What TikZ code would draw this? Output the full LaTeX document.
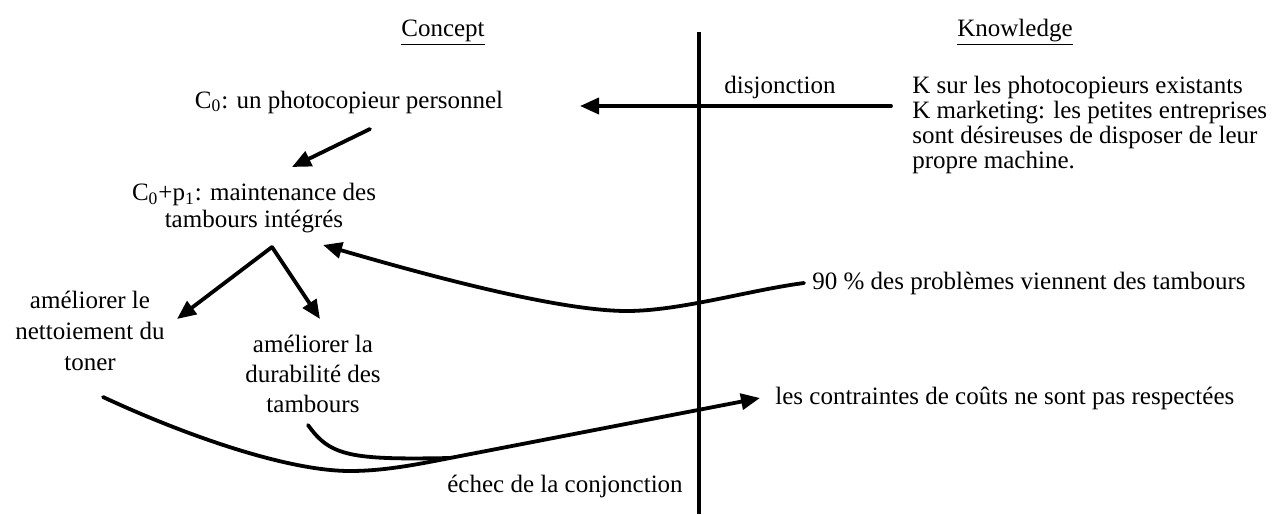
\documentclass[tikz,border=0pt]{standalone}
\usepackage{fontspec}
\setmainfont{Liberation Serif}
\usetikzlibrary{arrows.meta}

\begin{document}
\begin{tikzpicture}[x=0.5pt, y=-0.5pt,
  every node/.style={font=\fontsize{12.5}{15}\selectfont, inner sep=0pt},
  fleche/.style={line width=1.9pt, line cap=round, -{Triangle[length=9.5pt,width=8pt]}},
  trait/.style={line width=1.9pt, line cap=round}]
  \useasboundingbox (0,0) rectangle (1274,514);

  % Titres des deux espaces
  \node[anchor=base] (concept) at (443,36) {\underline{Concept}};
  \node[anchor=base] (knowledge) at (1015,36) {\underline{Knowledge}};

  % Frontiere C / K
  \coordinate (sephaut) at (699,32);
  \coordinate (sepbas) at (699,514);
  \draw[line width=2pt] (sephaut) -- (sepbas);

  % Espace C
  \node[anchor=base] (c0) at (349,108) {C\textsubscript{0}: un photocopieur personnel};
  \node[align=center, font=\fontsize{12.5}{13.5}\selectfont] (c0p1) at (254,208)
    {C\textsubscript{0}+p\textsubscript{1}: maintenance des\\tambours intégrés};
  \node[align=center, font=\fontsize{12.5}{15.5}\selectfont] (toner) at (90,331)
    {améliorer le\\nettoiement du\\toner};
  \node[align=center, font=\fontsize{12.5}{15}\selectfont] (durab) at (313,374)
    {améliorer la\\durabilité des\\tambours};

  % Espace K
  \node[anchor=base] (disj) at (780,93) {disjonction};
  \node[anchor=west, align=left, font=\fontsize{12.5}{12.5}\selectfont] (kexist) at (912,125)
    {K sur les photocopieurs existants\\K marketing: les petites entreprises\\sont désireuses de disposer de leur\\propre machine.};
  \node[anchor=west] (k90) at (812,283) {90 \% des problèmes viennent des tambours};
  \node[anchor=west] (couts) at (775,398) {les contraintes de coûts ne sont pas respectées};
  \node[anchor=base] (echec) at (565,492) {échec de la conjonction};

  % Points d'accroche
  \coordinate (disjdep) at (891,106);
  \coordinate (disjarr) at (580,106);
  \coordinate (c0dep) at (370,129);
  \coordinate (c0arr) at (292,167);
  \coordinate (sommet) at (272,247);
  \coordinate (tonerarr) at (177,319);
  \coordinate (durabarr) at (320,319);
  \coordinate (k90arr) at (323,245);
  \coordinate (tonerdep) at (103,397);
  \coordinate (durabdep) at (308,425);
  \coordinate (jonction) at (450,458);

  % Fleches
  \draw[fleche] (disjdep) -- (disjarr);
  \draw[fleche] (c0dep) -- (c0arr);
  \draw[fleche] (sommet) -- (tonerarr);
  \draw[fleche] (sommet) -- (durabarr);
  \draw[fleche] ([xshift=-4pt]k90.west) .. controls (750,290) and (680,311) .. (627,311)
    .. controls (560,311) and (433,277) .. (k90arr);

  % Echec de la conjonction
  \draw[fleche] (tonerdep) .. controls (180,433) and (285,471) .. (350,471)
    .. controls (385,471) and (419,464) .. (jonction) -- ([xshift=-7.5pt]couts.west);
  \draw[trait] (durabdep) .. controls (330,456) and (350,460) .. (jonction);
\end{tikzpicture}
\end{document}
